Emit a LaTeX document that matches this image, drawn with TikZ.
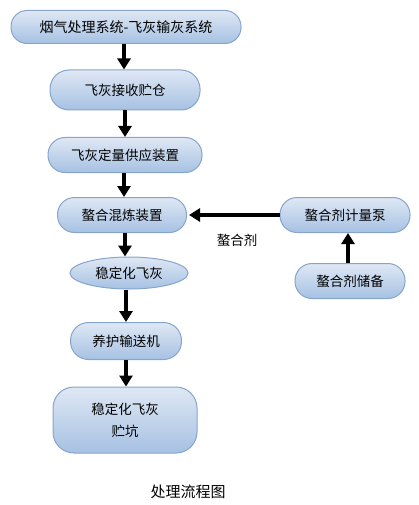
\documentclass[tikz,border=0pt]{standalone}
\usepackage{fontspec}
\newfontfamily\cjk{Noto Sans CJK SC}
\usetikzlibrary{arrows.meta,shapes.geometric}
\definecolor{boxtop}{HTML}{DFE8F4}
\definecolor{boxbot}{HTML}{A6C1E3}
\definecolor{boxline}{HTML}{86A4CC}
\begin{document}
\begin{tikzpicture}[x=1pt,y=-1pt,
  box/.style={draw=boxline, line width=1pt, top color=boxtop, bottom color=boxbot,
    inner sep=0pt, font=\cjk\fontsize{13.5}{17}\selectfont, align=center},
  pill/.style={box, rounded corners=#1},
  oval/.style={box, ellipse},
  flow/.style={line width=4pt, -{Triangle[width=13pt,length=11pt]}},
]
\useasboundingbox (0,0) rectangle (418,505);
\node[pill=16pt, minimum width=230pt, minimum height=33pt, font=\cjk\fontsize{14}{17}\selectfont] (n1) at (126,27) {烟气处理系统-飞灰输灰系统};
\node[pill=19pt, minimum width=150pt, minimum height=40pt] (n2) at (125,90) {飞灰接收贮仓};
\node[pill=17pt, minimum width=154pt, minimum height=35pt] (n3) at (125,155) {飞灰定量供应装置};
\node[pill=17pt, minimum width=129pt, minimum height=35pt] (n4) at (122,215) {螯合混炼装置};
\node[oval, minimum width=118pt, minimum height=32pt] (n5) at (129,273) {稳定化飞灰};
\node[pill=18pt, minimum width=111pt, minimum height=37pt] (n7) at (126,341) {养护输送机};
\node[pill=21pt, minimum width=144pt, minimum height=66pt, font=\cjk\fontsize{13.5}{22}\selectfont] (n8) at (125,420) {稳定化飞灰\\贮坑};
\node[pill=17pt, minimum width=130pt, minimum height=35pt] (p1) at (345,215) {螯合剂计量泵};
\node[pill=17pt, minimum width=110pt, minimum height=35pt] (p2) at (350,281) {螯合剂储备};
\node[font=\cjk\fontsize{13.5}{16}\selectfont] (lab) at (237,240) {螯合剂};
\node[font=\cjk\fontsize{15}{18}\selectfont] (cap) at (188,492) {处理流程图};

\draw[flow] ([xshift=-2pt]n1.south) -- ([xshift=-2pt]n1.south |- n2.north);
\draw[flow] (n2.south) -- (n2.south |- n3.north);
\draw[flow] ([xshift=-1pt]n3.south) -- ([xshift=-1pt]n3.south |- n4.north);
\draw[flow] ([xshift=3pt]n4.south) -- ([xshift=3pt]n4.south |- n5.north);
\draw[flow] ([xshift=-3pt]n5.south) -- ([xshift=-3pt]n5.south |- n7.north);
\draw[flow] (n7.south) -- (n7.south |- n8.north);
\draw[flow] (p1.west) -- ([xshift=2pt]n4.east);
\draw[flow] ([xshift=-2pt]p2.north) -- ([xshift=-2pt]p2.north |- p1.south);
\end{tikzpicture}
\end{document}
